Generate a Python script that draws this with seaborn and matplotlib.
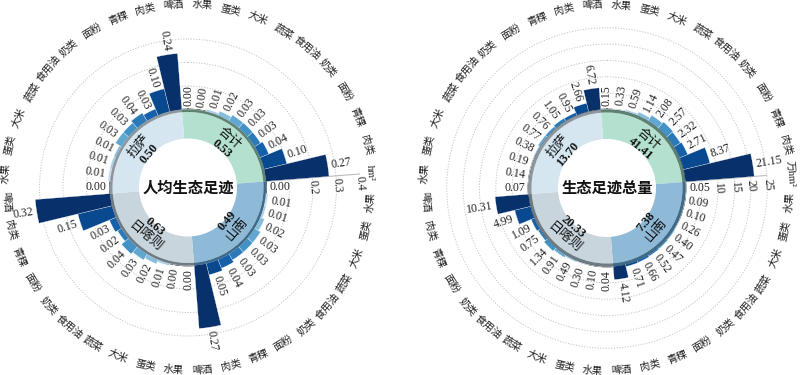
import numpy as np
import pandas as pd
import matplotlib
matplotlib.use('Agg')
import matplotlib.pyplot as plt
import matplotlib.transforms as mtrans
import seaborn as sns

# categories (same order in every region, clockwise)
foods = ['水果', '蛋类', '大米', '蔬菜', '食用油', '奶类', '面粉', '青稞', '肉类', '啤酒']
regions = ['合计', '山南', '日喀则', '拉萨']  # quadrants clockwise from 12 o'clock

# 人均生态足迹 (hm2)
pc_hj = [0.00, 0.00, 0.01, 0.02, 0.03, 0.03, 0.03, 0.04, 0.10, 0.27]
pc_sn = [0.00, 0.01, 0.01, 0.02, 0.03, 0.03, 0.03, 0.04, 0.05, 0.27]
pc_rkz = [0.00, 0.00, 0.01, 0.02, 0.03, 0.04, 0.02, 0.03, 0.15, 0.32]
pc_ls = [0.00, 0.01, 0.01, 0.01, 0.03, 0.03, 0.04, 0.03, 0.10, 0.24]
pc_total = [0.53, 0.49, 0.63, 0.50]

# 生态足迹总量 (万hm2)
tot_hj = [0.15, 0.33, 0.59, 1.14, 2.08, 2.57, 2.32, 2.71, 8.37, 21.15]
tot_sn = [0.05, 0.09, 0.10, 0.26, 0.40, 0.47, 0.52, 0.66, 0.71, 4.12]
tot_rkz = [0.04, 0.10, 0.30, 0.49, 0.91, 1.34, 0.75, 1.09, 4.99, 10.31]
tot_ls = [0.07, 0.14, 0.19, 0.38, 0.77, 0.76, 1.05, 0.95, 2.66, 6.72]
tot_total = [41.41, 7.38, 20.33, 13.70]

ring_colors = ['#b4e1cf', '#8fbad7', '#c8d5dc', '#d5e6f1']
ring_edges = ['#5e8272', '#3e6b8a', '#6e7b83', '#8c969c']

sns.set_theme(style='white')
plt.rcParams['font.family'] = ['Liberation Serif', 'Noto Sans CJK SC', 'DejaVu Sans']
cjk = ['Noto Sans CJK SC', 'DejaVu Sans']

cmap = sns.color_palette('Blues', as_cmap=True)
bar_colors = [cmap(x) for x in np.linspace(0.15, 1.0, len(foods))]


def make_df(series):
    rows = []
    for q, (reg, vals) in enumerate(zip(regions, series)):
        for j, (f, v) in enumerate(zip(foods, vals)):
            rows.append({'region': reg, 'food': f, 'value': v,
                         'q': q, 'j': j, 'deg': 90 * q + 9 * j})
    return pd.DataFrame(rows)


def panel(ax, df, totals, k, b, rmax, ticks, grid_ticks, unit, title, fmt):
    # k: px per unit, b: px radius of the zero line
    pv = lambda px: (px - b) / k
    ax.set_theta_zero_location('N')
    ax.set_theta_direction(-1)
    ax.set_ylim(0, rmax)
    ax.set_rorigin(-b / k)
    for s in ax.spines.values():
        s.set_visible(False)
    ax.set_xticks([])
    ax.set_yticks(grid_ticks)
    ax.set_yticklabels([])
    ax.xaxis.grid(False)
    ax.yaxis.grid(True, color='#c4c4c4', linestyle=(0, (1.2, 1.6)), linewidth=0.7)
    ax.set_facecolor('white')

    # radial axis line
    ta = np.radians(85.5)
    ax.plot([ta, ta], [0, ticks[-1]], color='#bdbdbd', lw=0.8, zorder=1)

    # inner donut
    for q in range(4):
        c = np.radians(40.5 + 90 * q)
        ax.bar(c, pv(75.5) - pv(49), width=np.radians(90), bottom=pv(49),
               color=ring_colors[q], linewidth=0, clip_on=False, zorder=2)
        ax.bar(c, pv(78.5) - pv(75.5), width=np.radians(90), bottom=pv(75.5),
               color=ring_edges[q], linewidth=0, clip_on=False, zorder=3)
        cd = 40.5 + 90 * q
        upper = cd < 90 or cd > 270
        rot = -cd if upper else 180 - cd
        ax.text(c, pv(64.5), regions[q], rotation=rot, ha='center', va='center',
                rotation_mode='anchor', fontsize=9.5, family=cjk, color='#111', zorder=6)
        ax.text(c, pv(51.5), fmt.format(totals[q]), rotation=rot, ha='center',
                va='center', rotation_mode='anchor', fontsize=9, fontweight='bold',
                color='#111', zorder=6)

    # bars
    ax.bar(np.radians(df['deg']), df['value'], width=np.radians(9), bottom=0,
           color=[bar_colors[j] for j in df['j']], edgecolor='white', linewidth=0.2,
           zorder=4)

    # value labels, radial: outward on the right half, inward on the left half
    fs = 8.5
    fs_px = fs / 72 * 100
    for _, r in df.iterrows():
        th = r['deg']
        s = '{:.2f}'.format(r['value'])
        rot = 90 - th if th < 180 else 270 - th
        L = (0.5 * (len(s) - 1) + 0.25) * fs_px
        rpx = b + k * r['value'] + 3.5 + L / 2
        ax.text(np.radians(th), pv(rpx), s, rotation=rot, ha='center', va='center',
                rotation_mode='anchor', fontsize=fs, color='#222', zorder=6)

    # outer category labels
    for q in range(4):
        for j, f in enumerate(foods):
            th = 90 * q + 9 * j + 4.5
            lab = f
            if q == 0 and j == 9:
                lab = unit
            upper = th < 90 or th > 270
            rot = -th if upper else 180 - th
            ax.text(np.radians(th), pv(183), lab, rotation=rot, ha='center',
                    va='center', rotation_mode='anchor', fontsize=7.5,
                    family=['Liberation Serif', 'Noto Sans CJK SC'], color='#222')

    # radial tick labels
    off = mtrans.offset_copy(ax.transData, fig=ax.figure, x=0.8, y=-9.5, units='dots')
    for t in ticks:
        ax.text(ta, t, ('{:g}'.format(t)), transform=off, rotation=-86,
                ha='center', va='center', rotation_mode='anchor', fontsize=8.5,
                color='#222')

    ax.text(0.5, 0.5, title, transform=ax.transAxes, ha='center', va='center',
            fontsize=11, fontweight='bold', family=cjk, color='#111', zorder=7)


fig = plt.figure(figsize=(8, 3.75), dpi=100)
fig.patch.set_facecolor('white')

# left: per capita
kL, bL, rmaxL = 235.0, 78.0, 0.45
RL = bL + kL * rmaxL
axL = fig.add_axes([(188 - RL) / 800, (187.5 - RL) / 375, 2 * RL / 800, 2 * RL / 375],
                   projection='polar')
panel(axL, make_df([pc_hj, pc_sn, pc_rkz, pc_ls]), pc_total, kL, bL, rmaxL,
      [0.2, 0.3, 0.4], [0.1, 0.2, 0.3], 'hm²', '人均生态足迹', '{:.2f}')

# right: total
kR, bR, rmaxR = 3.27, 78.5, 32.0
RR = bR + kR * rmaxR
axR = fig.add_axes([(607 - RR) / 800, (187 - RR) / 375, 2 * RR / 800, 2 * RR / 375],
                   projection='polar')
panel(axR, make_df([tot_hj, tot_sn, tot_rkz, tot_ls]), tot_total, kR, bR, rmaxR,
      [10, 15, 20, 25], [5, 10, 15, 20, 25], '万hm²', '生态足迹总量', '{:.2f}')

fig.savefig('out.png', dpi=100, facecolor='white')
